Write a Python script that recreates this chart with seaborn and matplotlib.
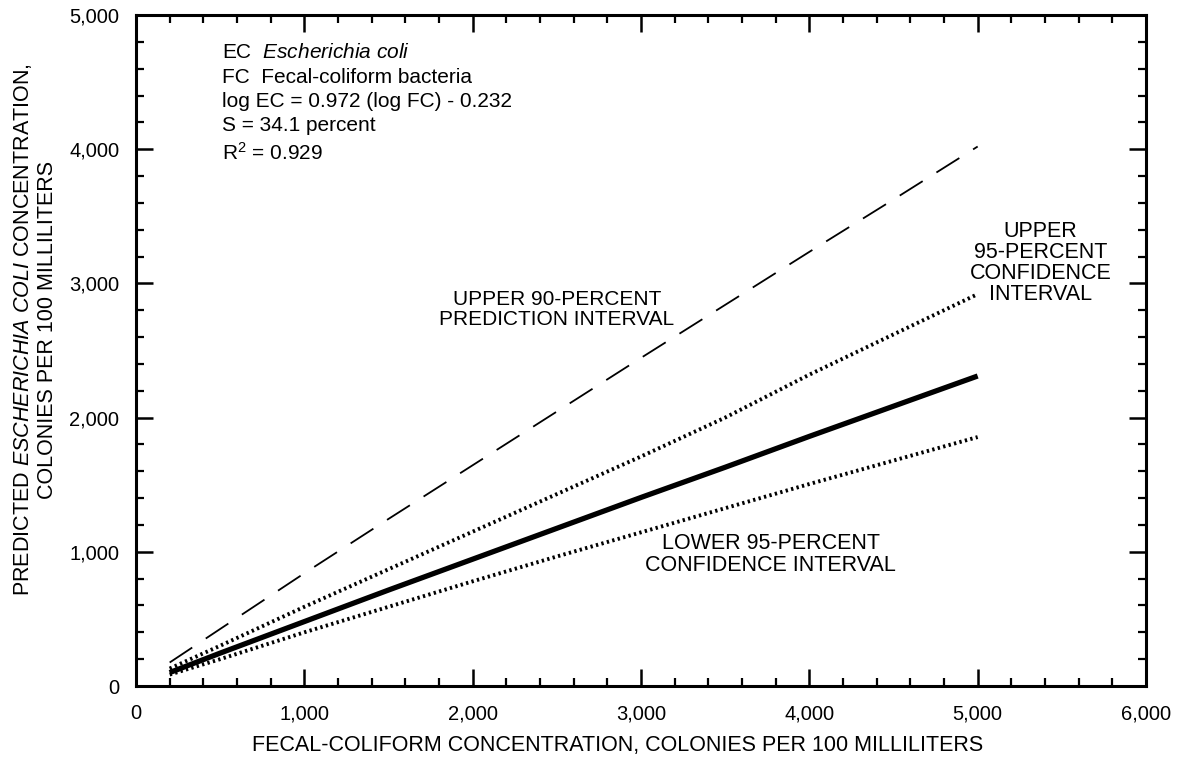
import matplotlib
matplotlib.use("Agg")
import matplotlib.pyplot as plt
from matplotlib.ticker import MultipleLocator, FuncFormatter
import seaborn as sns
import pandas as pd

# Fecal-coliform concentration (x)
fc = [200, 500, 1000, 1500, 2000, 2500, 3000, 3500, 4000, 4500, 5000]
# Regression line (predicted E. coli)
ec_fit = [100, 245, 480, 715, 945, 1175, 1405, 1630, 1860, 2085, 2310]
# Upper 90-percent prediction interval
upper_pi = [175, 425, 840, 1245, 1645, 2045, 2445, 2840, 3235, 3625, 4020]
# Upper 95-percent confidence interval
upper_ci = [130, 300, 590, 870, 1150, 1430, 1710, 2000, 2320, 2620, 2920]
# Lower 95-percent confidence interval
lower_ci = [85, 200, 400, 590, 780, 965, 1145, 1325, 1505, 1680, 1855]

x_ticks = [0, 1000, 2000, 3000, 4000, 5000, 6000]
y_ticks = [0, 1000, 2000, 3000, 4000, 5000]

sns.set_theme(style="ticks")
FONT = ["Liberation Sans", "DejaVu Sans"]
plt.rcParams["font.family"] = FONT
plt.rcParams["mathtext.fontset"] = "custom"
plt.rcParams["mathtext.rm"] = "Liberation Sans"
plt.rcParams["mathtext.it"] = "Liberation Sans:italic"
plt.rcParams["mathtext.bf"] = "Liberation Sans:bold"

df = pd.DataFrame({"fc": fc, "fit": ec_fit, "upi": upper_pi,
                   "uci": upper_ci, "lci": lower_ci})

fig = plt.figure(figsize=(11.8, 7.61), dpi=100)
ax = fig.add_axes([136 / 1180, 1 - 686 / 761, (1146 - 136) / 1180, (686 - 15) / 761])

sns.lineplot(data=df, x="fc", y="upi", ax=ax, color="black", lw=1.3,
             linestyle=(0, (15, 9)))
sns.lineplot(data=df, x="fc", y="uci", ax=ax, color="black", lw=2.8,
             linestyle=(0, (0.6, 0.85)))
sns.lineplot(data=df, x="fc", y="lci", ax=ax, color="black", lw=2.8,
             linestyle=(0, (0.6, 0.85)))
sns.lineplot(data=df, x="fc", y="fit", ax=ax, color="black", lw=3.8,
             solid_capstyle="butt")

ax.set_xlim(x_ticks[0], x_ticks[-1])
ax.set_ylim(y_ticks[0], y_ticks[-1])
ax.set_xticks(x_ticks)
ax.set_yticks(y_ticks)
ax.xaxis.set_minor_locator(MultipleLocator(200))
ax.yaxis.set_minor_locator(MultipleLocator(200))
fmt = FuncFormatter(lambda v, p: f"{int(v):,}")
ax.xaxis.set_major_formatter(fmt)
ax.yaxis.set_major_formatter(fmt)

ax.tick_params(which="both", direction="in", top=True, right=True,
               color="black", labelsize=14.5, labelcolor="black")
ax.tick_params(which="major", length=12, width=1.8)
ax.tick_params(which="minor", length=6, width=1.6)
ax.tick_params(axis="x", which="major", pad=13)
ax.tick_params(axis="y", which="major", pad=12)
for s in ax.spines.values():
    s.set_linewidth(2.2)
    s.set_color("black")
ax.set_facecolor("white")
fig.patch.set_facecolor("white")
ax.set_xlabel("")
ax.set_ylabel("")

fig.text(618 / 1180, 1 - 745 / 761,
         "FECAL-COLIFORM CONCENTRATION, COLONIES PER 100 MILLILITERS",
         fontsize=15.5, ha="center", va="center", color="black")
fig.text(35 / 1180, 1 - 330 / 761,
         "PREDICTED $\\mathit{ESCHERICHIA\\ COLI}$ CONCENTRATION,\n"
         "COLONIES PER 100 MILLILITERS", fontsize=15.5, rotation=90,
         ha="center", va="center", color="black", linespacing=1.15,
         multialignment="center")

ax.text(510, 4790,
        "EC  $\\mathit{Escherichia\\ coli}$\n"
        "FC  Fecal-coliform bacteria\n"
        "log EC = 0.972 (log FC) - 0.232\n"
        "S = 34.1 percent\n"
        "R$^2$ = 0.929",
        fontsize=15, va="top", ha="left", linespacing=1.36, color="black")

ax.text(2500, 2805, "UPPER 90-PERCENT\nPREDICTION INTERVAL", fontsize=15,
        ha="center", va="center", linespacing=1.05, color="black")
ax.text(5372, 3150, "UPPER\n95-PERCENT\nCONFIDENCE\nINTERVAL", fontsize=15.5,
        ha="center", va="center", linespacing=1.0, color="black")
ax.text(3770, 980, "LOWER 95-PERCENT\nCONFIDENCE INTERVAL", fontsize=15.5,
        ha="center", va="center", linespacing=1.1, color="black")

fig.savefig("out.png", dpi=100, facecolor="white")
